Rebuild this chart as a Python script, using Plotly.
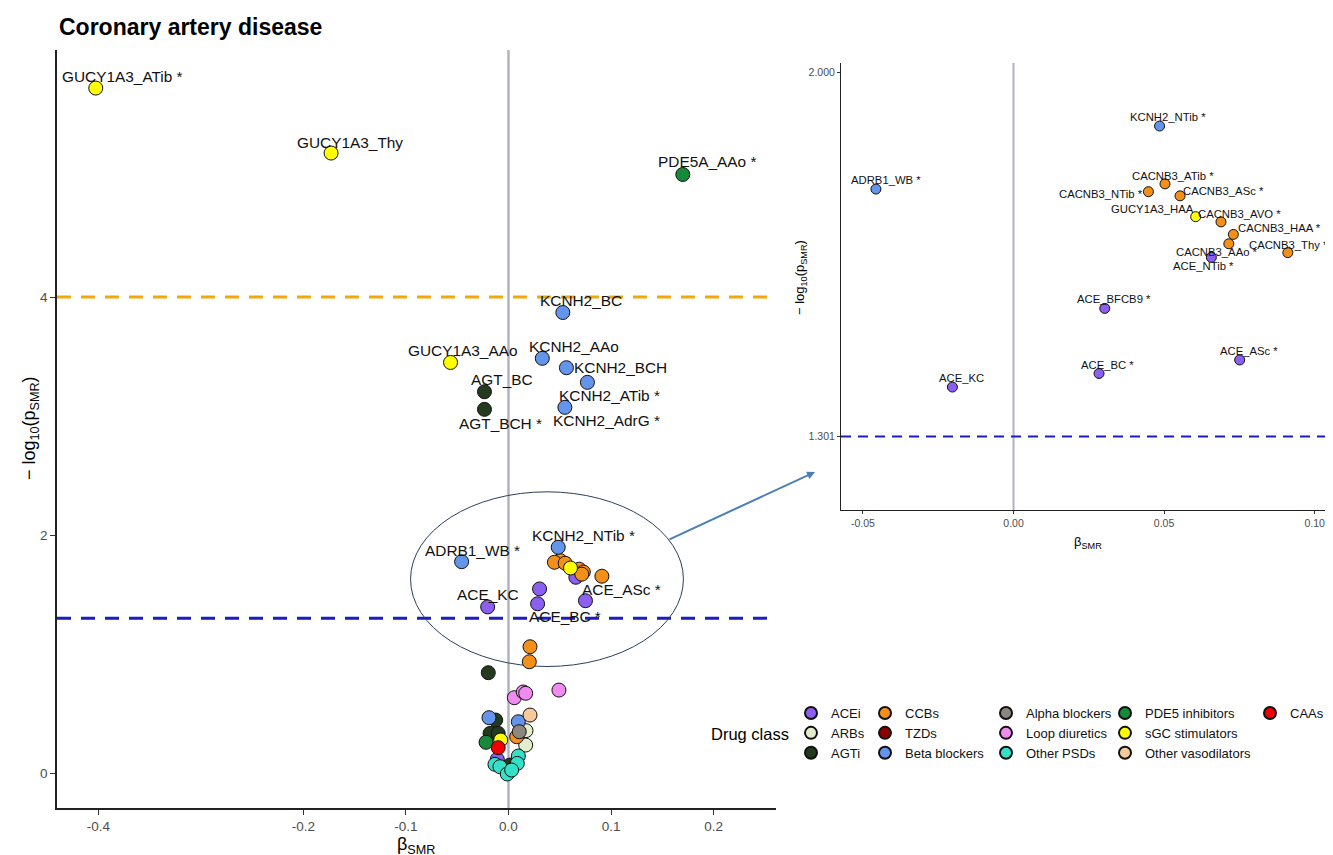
import plotly.graph_objects as go

W, H = 1333, 855

# ---------------- data ----------------
classes = ["ACEi", "ARBs", "AGTi", "CCBs", "TZDs", "Beta blockers",
           "Alpha blockers", "Loop diuretics", "Other PSDs",
           "PDE5 inhibitors", "sGC stimulators", "Other vasodilators", "CAAs"]
class_colors = ["#8B5FF0", "#E4EDCB", "#243A1F", "#F39019", "#8B0000", "#6495ED",
                "#8C8781", "#F08CF0", "#33E0C8", "#17893A", "#FFFF00", "#F5C99B", "#F00000"]

point_name = [
    "GUCY1A3_ATib *", "GUCY1A3_Thy", "PDE5A_AAo *", "KCNH2_BC", "GUCY1A3_AAo",
    "KCNH2_AAo", "KCNH2_BCH", "KCNH2_ATib *", "KCNH2_AdrG *", "AGT_BC", "AGT_BCH *",
    "KCNH2_NTib *", "ADRB1_WB *", "CACNB3_ATib *", "CACNB3_NTib *", "CACNB3_ASc *",
    "GUCY1A3_HAA", "CACNB3_AVO *", "CACNB3_HAA *", "CACNB3_AAo *", "CACNB3_Thy *",
    "ACE_NTib *", "ACE_BFCB9 *", "ACE_ASc *", "ACE_BC *", "ACE_KC",
    "", "", "", "", "", "", "", "", "", "", "", "", "", "", "", "", "", "", "",
    "", "", "", "", "", "", "", "", "",
]
point_class = [
    "sGC stimulators", "sGC stimulators", "PDE5 inhibitors", "Beta blockers", "sGC stimulators",
    "Beta blockers", "Beta blockers", "Beta blockers", "Beta blockers", "AGTi", "AGTi",
    "Beta blockers", "Beta blockers", "CCBs", "CCBs", "CCBs",
    "sGC stimulators", "CCBs", "CCBs", "CCBs", "CCBs",
    "ACEi", "ACEi", "ACEi", "ACEi", "ACEi",
    "CCBs", "CCBs", "AGTi", "Loop diuretics", "Loop diuretics", "Loop diuretics", "Loop diuretics",
    "Other vasodilators", "Beta blockers", "AGTi", "Beta blockers", "ARBs", "Alpha blockers",
    "CCBs", "ARBs", "AGTi", "AGTi", "PDE5 inhibitors", "sGC stimulators",
    "CAAs", "ACEi", "Other PSDs", "Other PSDs", "AGTi", "Other PSDs", "Other PSDs",
    "Other PSDs", "Other PSDs",
]
point_beta = [
    -0.4025, -0.173, 0.170, 0.053, -0.0565,
    0.033, 0.0565, 0.077, 0.055, -0.0234, -0.0234,
    0.0485, -0.0457, 0.0503, 0.0448, 0.0553,
    0.0605, 0.0689, 0.0730, 0.0715, 0.0911,
    0.0657, 0.0303, 0.0751, 0.0284, -0.0203,
    0.021, 0.0203, -0.0197, 0.0057, 0.0144, 0.0168, 0.0492,
    0.021, -0.019, -0.0125, 0.0096, 0.0171, 0.0105,
    0.008, 0.0168, -0.018, -0.010, -0.0219, -0.0076,
    -0.010, -0.0109, -0.0132, -0.0083, 0.0015, 0.0096, 0.0086,
    -0.0012, 0.0031,
]
point_logp = [
    5.756, 5.21, 5.03, 3.87, 3.45,
    3.485, 3.406, 3.283, 3.073, 3.204, 3.056,
    1.897, 1.776, 1.786, 1.771, 1.763,
    1.723, 1.713, 1.689, 1.671, 1.654,
    1.645, 1.547, 1.448, 1.422, 1.396,
    1.061, 0.935, 0.843, 0.633, 0.681, 0.670, 0.697,
    0.487, 0.465, 0.445, 0.431, 0.356, 0.347,
    0.305, 0.235, 0.333, 0.333, 0.258, 0.277,
    0.213, 0.115, 0.073, 0.053, 0.067, 0.143, 0.081,
    -0.008, 0.025,
]

p_threshold = 1.301          # -log10(0.05)
strict_threshold = 4.0
x_ticks = [-0.4, -0.2, -0.1, 0.0, 0.1, 0.2]
x_ticklabels = ["-0.4", "-0.2", "-0.1", "0.0", "0.1", "0.2"]
y_ticks = [0, 2, 4]
inset_x_ticks = [-0.05, 0.0, 0.05, 0.10]
inset_x_ticklabels = ["-0.05", "0.00", "0.05", "0.10"]
inset_y_ticks = [1.301, 2.0]
inset_y_ticklabels = ["1.301", "2.000"]

main_labelled = ["GUCY1A3_ATib *", "GUCY1A3_Thy", "PDE5A_AAo *", "KCNH2_BC", "GUCY1A3_AAo",
                 "KCNH2_AAo", "KCNH2_BCH", "KCNH2_ATib *", "KCNH2_AdrG *", "AGT_BC", "AGT_BCH *",
                 "ADRB1_WB *", "KCNH2_NTib *", "ACE_KC", "ACE_ASc *", "ACE_BC *"]

# ---------------- label placement (pixel offsets, layout only) ----------------
main_label_offset = {
    "GUCY1A3_ATib *": (27, -12), "GUCY1A3_Thy": (19, -11), "PDE5A_AAo *": (24, -13),
    "KCNH2_BC": (18, -12), "GUCY1A3_AAo": (12, -12), "KCNH2_AAo": (32, -12),
    "KCNH2_BCH": (54, 0), "KCNH2_ATib *": (22, 13), "KCNH2_AdrG *": (42, 13),
    "AGT_BC": (18, -12), "AGT_BCH *": (16, 14), "ADRB1_WB *": (11, -11),
    "KCNH2_NTib *": (25, -12), "ACE_KC": (0, -12), "ACE_ASc *": (36, -11), "ACE_BC *": (27, 13),
}
inset_label_offset = {
    "KCNH2_NTib *": (8, -9), "ADRB1_WB *": (10, -9), "CACNB3_ATib *": (8, -8),
    "CACNB3_NTib *": (-47, 2), "CACNB3_ASc *": (43, -5), "GUCY1A3_HAA": (-43, -8),
    "CACNB3_AVO *": (19, -8), "CACNB3_HAA *": (46, -6), "CACNB3_AAo *": (-12, 8),
    "CACNB3_Thy *": (1, -8), "ACE_NTib *": (-8, 9), "ACE_BFCB9 *": (9, -9),
    "ACE_ASc *": (9, -9), "ACE_BC *": (8, -9), "ACE_KC": (9, -9),
}

FONT = "Liberation Sans, Arial, sans-serif"
TICK_COL = "#4D4D4D"
OFF = 8  # page body margin


def fx(px):
    return (px - OFF) / W


def fy(py):
    return 1 - (py - OFF) / H


fig = go.Figure()

legend_of_class = {}
for i, c in enumerate(classes):
    col = i // 3
    legend_of_class[c] = "legend" if col == 0 else "legend%d" % (col + 1)

for c, colr in zip(classes, class_colors):
    idx = [i for i, k in enumerate(point_class) if k == c]
    xs = [point_beta[i] for i in idx] or [None]
    ys = [point_logp[i] for i in idx] or [None]
    fig.add_trace(go.Scatter(
        x=xs, y=ys, mode="markers", name=c, legend=legend_of_class[c],
        marker=dict(size=14, color=colr, line=dict(color="#111111", width=1)),
        xaxis="x", yaxis="y", hoverinfo="skip", cliponaxis=False))
    # inset: points between the significance threshold and 2.0
    iidx = [i for i in idx if p_threshold < point_logp[i] < 2.0]
    if iidx:
        fig.add_trace(go.Scatter(
            x=[point_beta[i] for i in iidx], y=[point_logp[i] for i in iidx],
            mode="markers", name=c, showlegend=False,
            marker=dict(size=10, color=colr, line=dict(color="#111111", width=1)),
            xaxis="x2", yaxis="y2", hoverinfo="skip"))

annotations = []
for i, n in enumerate(point_name):
    if n in main_labelled:
        dx, dy = main_label_offset[n]
        annotations.append(dict(x=point_beta[i], y=point_logp[i], xref="x", yref="y",
                                text=n, showarrow=False, xshift=dx, yshift=-dy,
                                xanchor="center", yanchor="middle",
                                font=dict(family=FONT, size=15.4, color="#111111")))
    if n and p_threshold < point_logp[i] < 2.0:
        dx, dy = inset_label_offset[n]
        annotations.append(dict(x=point_beta[i], y=point_logp[i], xref="x2", yref="y2",
                                text=n, showarrow=False, xshift=dx, yshift=-dy,
                                xanchor="center", yanchor="middle",
                                font=dict(family=FONT, size=11.3, color="#111111")))

# titles
annotations += [
    dict(text="<b>Coronary artery disease</b>", x=fx(57), y=fy(27), xref="paper", yref="paper",
         xanchor="left", yanchor="middle", showarrow=False, font=dict(family=FONT, size=23, color="#000")),
    dict(text="\u2212 log<sub>10</sub>(p<sub>SMR</sub>)", x=fx(30), y=fy(428), xref="paper", yref="paper",
         xanchor="center", yanchor="middle",
         textangle=-90, showarrow=False, font=dict(family=FONT, size=18, color="#000")),
    dict(text="\u03b2<sub>SMR</sub>", x=fx(416), y=fy(845), xref="paper", yref="paper",
         xanchor="center", yanchor="middle",
         showarrow=False, font=dict(family=FONT, size=18, color="#000")),
    dict(text="\u2212 log<sub>10</sub>(p<sub>SMR</sub>)", x=fx(800), y=fy(278), xref="paper", yref="paper",
         xanchor="center", yanchor="middle",
         textangle=-90, showarrow=False, font=dict(family=FONT, size=13, color="#000")),
    dict(text="\u03b2<sub>SMR</sub>", x=fx(1088), y=fy(542), xref="paper", yref="paper",
         xanchor="center", yanchor="middle",
         showarrow=False, font=dict(family=FONT, size=13, color="#000")),
    dict(text="Drug class", x=fx(791), y=fy(734), xref="paper", yref="paper",
         xanchor="right", yanchor="middle", showarrow=False, font=dict(family=FONT, size=16.5, color="#000")),
    # arrow from the circled cluster to the inset
    dict(text="", x=fx(815), y=fy(472), xref="paper", yref="paper", ax=-147, ay=68,
         showarrow=True, arrowhead=2, arrowsize=0.8, arrowwidth=2, arrowcolor="#4A7EBB"),
]

shapes = [
    dict(type="line", xref="x", yref="y domain", x0=0, x1=0, y0=0, y1=1,
         line=dict(color="#B2B2C2", width=2.5), layer="below"),
    dict(type="line", xref="x domain", yref="y", x0=0, x1=1, y0=strict_threshold, y1=strict_threshold,
         line=dict(color="#F0A810", width=3, dash="14px,10px"), layer="below"),
    dict(type="line", xref="x domain", yref="y", x0=0, x1=1, y0=p_threshold, y1=p_threshold,
         line=dict(color="#1C1CC0", width=3, dash="14px,10px"), layer="below"),
    dict(type="circle", xref="x", yref="y", x0=-0.0955, x1=0.1706, y0=0.895, y1=2.363,
         line=dict(color="#2B3F5C", width=1), layer="below"),
    dict(type="line", xref="x2", yref="y2 domain", x0=0, x1=0, y0=0, y1=1,
         line=dict(color="#B2B2C2", width=2), layer="below"),
    dict(type="line", xref="x2 domain", yref="y2", x0=0, x1=1, y0=p_threshold, y1=p_threshold,
         line=dict(color="#1C1CC0", width=2, dash="10px,7px"), layer="below"),
]

axis_common = dict(showgrid=False, zeroline=False, showline=True, linecolor="#222222",
                   ticks="outside", tickcolor="#333333", automargin=False)

legend_px = [811, 885, 1006, 1125, 1270]
legend_common = dict(orientation="v", yanchor="top", xanchor="left", y=fy(698),
                     bgcolor="rgba(0,0,0,0)", itemsizing="constant", tracegroupgap=0,
                     font=dict(family=FONT, size=13, color="#111111"))
legends = {}
for k, px in enumerate(legend_px):
    key = "legend" if k == 0 else "legend%d" % (k + 1)
    legends[key] = dict(legend_common, x=fx(px - 20))

fig.update_layout(
    width=W, height=H,
    margin=dict(l=0, r=0, t=0, b=0),
    paper_bgcolor="white", plot_bgcolor="white",
    font=dict(family=FONT),
    xaxis=dict(axis_common, domain=[fx(57), fx(776)], range=[-0.4403, 0.2609],
               tickvals=x_ticks, ticktext=x_ticklabels, linewidth=1.5, ticklen=5,
               tickfont=dict(size=13.5, color=TICK_COL), anchor="y"),
    yaxis=dict(axis_common, domain=[fy(808), fy(50)], range=[-0.294, 6.076],
               tickvals=y_ticks, linewidth=1.5, ticklen=5,
               tickfont=dict(size=13.5, color=TICK_COL), anchor="x"),
    xaxis2=dict(axis_common, domain=[fx(841), fx(1333)], range=[-0.0573, 0.1061],
                tickvals=inset_x_ticks, ticktext=inset_x_ticklabels, linewidth=1, ticklen=3,
                tickfont=dict(size=10.5, color=TICK_COL), anchor="y2"),
    yaxis2=dict(axis_common, domain=[fy(510), fy(63)], range=[1.160, 2.018],
                tickvals=inset_y_ticks, ticktext=inset_y_ticklabels, linewidth=1, ticklen=3,
                tickfont=dict(size=10.5, color=TICK_COL), anchor="x2"),
    shapes=shapes,
    annotations=annotations,
    **legends,
)

fig.write_html("out.html")
